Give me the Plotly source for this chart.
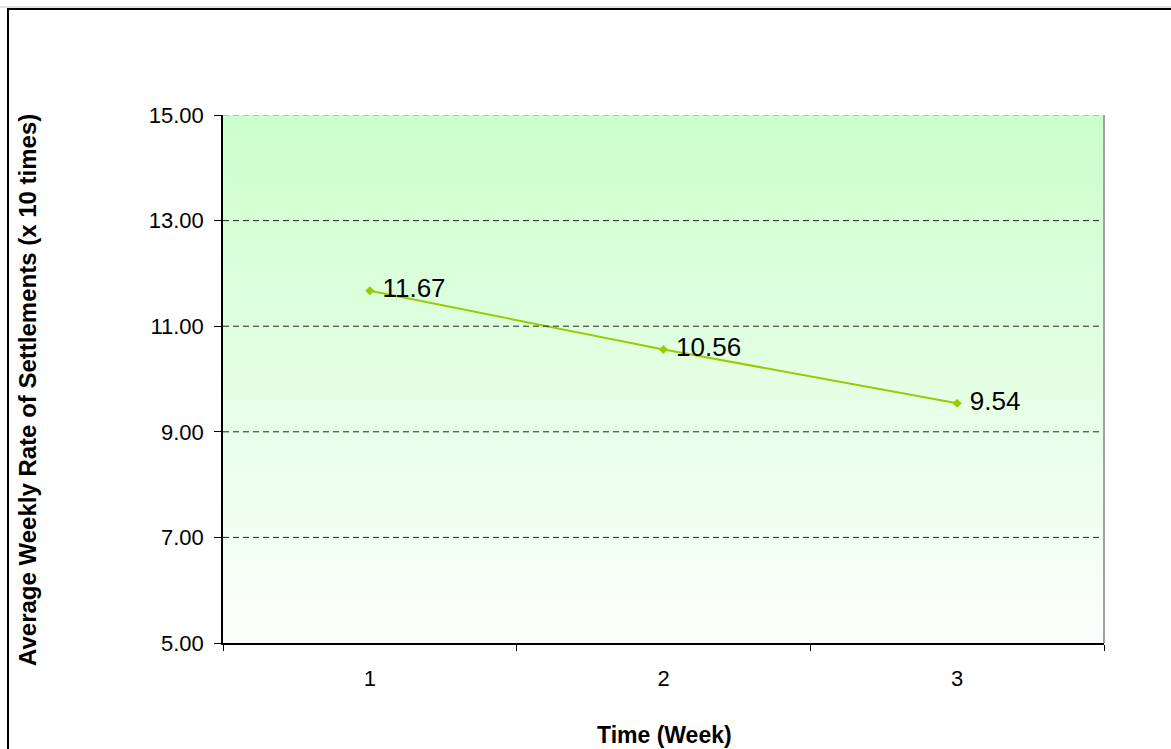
import plotly.graph_objects as go

# Weekly settlement rate data
weeks = [1, 2, 3]
rates = [11.67, 10.56, 9.54]
rate_labels = ["11.67", "10.56", "9.54"]
y_ticks = [5, 7, 9, 11, 13, 15]
y_tick_text = ["5.00", "7.00", "9.00", "11.00", "13.00", "15.00"]

W, H = 1171, 749
L, R, T, B = 223, 67, 115, 106
pw, ph = W - L - R, H - T - B
FONT = "Arial, Liberation Sans"


def px_x(p):
    return (p - L) / pw


def px_y(p):
    return (H - B - p) / ph


fig = go.Figure()

# gradient backdrop of the plotting area
fig.add_trace(go.Scatter(
    x=[0.5, 3.5, 3.5, 0.5, 0.5], y=[5, 5, 15, 15, 5],
    mode="lines", fill="toself",
    fillgradient=dict(type="vertical",
                      colorscale=[[0, "#fcfffc"], [1, "#ccffcc"]]),
    line=dict(width=0), hoverinfo="skip", showlegend=False,
))

fig.add_trace(go.Scatter(
    x=weeks, y=rates, mode="lines+markers+text",
    text=[" " + t for t in rate_labels], textposition="middle right",
    textfont=dict(family=FONT, size=26, color="#000000"),
    line=dict(color="#99cc00", width=2),
    marker=dict(symbol="diamond", size=7, color="#99cc00"),
    showlegend=False,
))

fig.update_xaxes(
    range=[0.5, 3.5], tickvals=weeks, ticktext=[str(w) for w in weeks],
    ticks="", showgrid=False, zeroline=False,
    showline=True, linecolor="#000000", linewidth=1.5,
    tickfont=dict(family=FONT, size=22, color="#000000"),
    ticklabelstandoff=15,
    minor=dict(tickvals=[0.5, 1.5, 2.5, 3.5], ticks="outside", ticklen=6,
               tickcolor="#000000", tickwidth=1, showgrid=False),
)
fig.update_yaxes(
    range=[5, 15], tickvals=y_ticks, ticktext=y_tick_text,
    ticks="outside", ticklen=7, tickcolor="#000000", tickwidth=1,
    showgrid=False, zeroline=False,
    showline=True, linecolor="#000000", linewidth=1.5,
    tickfont=dict(family=FONT, size=22, color="#000000"),
    ticklabelstandoff=6,
)

# dashed horizontal gridlines drawn over the gradient backdrop
grid_shapes = [
    dict(type="line", xref="paper", yref="y", x0=0, x1=1, y0=v, y1=v,
         line=dict(color="#888888" if v == y_ticks[-1] else "#222222",
                   width=1, dash="6px,4px"),
         layer="above")
    for v in y_ticks[1:]
]

fig.update_layout(
    width=W, height=H, margin=dict(l=L, r=R, t=T, b=B),
    paper_bgcolor="#ffffff", plot_bgcolor="rgba(0,0,0,0)",
    font=dict(family=FONT),
    shapes=grid_shapes + [
        # right edge of plot area
        dict(type="line", xref="paper", yref="paper", x0=1, x1=1, y0=0, y1=1,
             line=dict(color="#a0a0a0", width=2)),
        # chart frame
        dict(type="rect", xref="paper", yref="paper",
             x0=px_x(8), x1=px_x(1200), y0=px_y(780), y1=px_y(9),
             line=dict(color="#000000", width=2), layer="below"),
        dict(type="line", xref="paper", yref="paper",
             x0=px_x(0), x1=px_x(1171), y0=px_y(7), y1=px_y(7),
             line=dict(color="#c8c8c8", width=1)),
    ],
    annotations=[
        dict(text="<b>Average Weekly Rate of Settlements (x 10 times)</b>",
             xref="paper", yref="paper", x=px_x(28), y=px_y(390),
             xanchor="center", yanchor="middle",
             textangle=-90, showarrow=False,
             font=dict(family=FONT, size=24, color="#000000")),
        dict(text="<b>Time (Week)</b>",
             xref="paper", yref="paper", x=px_x(664), y=px_y(735),
             xanchor="center", yanchor="middle",
             showarrow=False,
             font=dict(family=FONT, size=23, color="#000000")),
    ],
)

fig.write_html("out.html")
